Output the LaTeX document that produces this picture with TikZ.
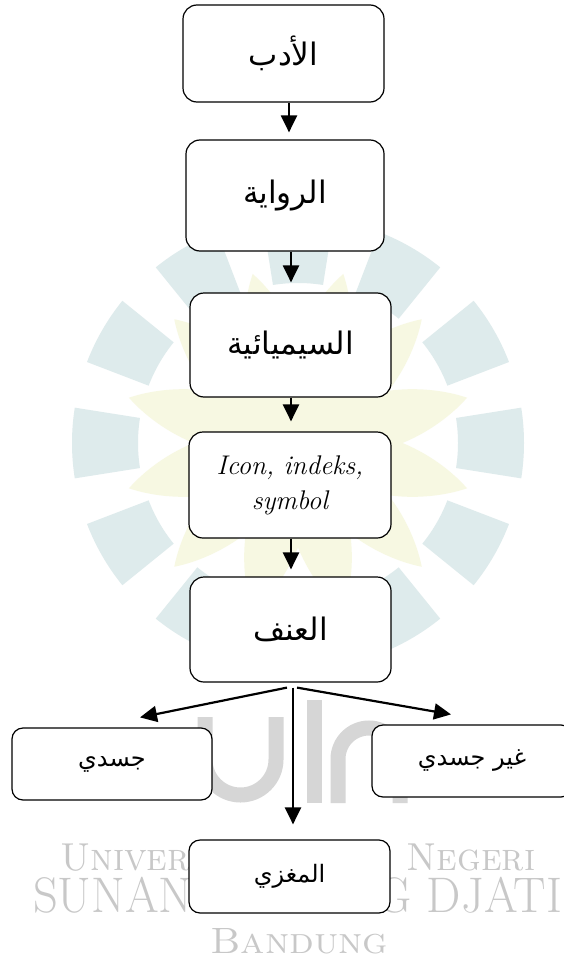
\documentclass[tikz,border=0pt]{standalone}
\usepackage{fontspec}
\usepackage{graphicx}
\newfontfamily\arabicfont[Script=Arabic]{DejaVu Sans}
\TeXXeTstate=1
\usetikzlibrary{arrows.meta,calc}
\definecolor{wmteal}{RGB}{222,235,236}
\definecolor{wmyellow}{RGB}{247,248,226}
\definecolor{wmgrey}{RGB}{214,214,214}
\definecolor{wmtextgrey}{RGB}{200,200,200}
\newcommand{\artxt}[1]{{\arabicfont\beginR #1\endR}}
\begin{document}
\begin{tikzpicture}[x=1pt,y=-1pt,
  box/.style={draw=black, line width=1.2pt, rounded corners=14pt, fill=white, inner sep=0pt, align=center},
  smallbox/.style={box, rounded corners=11pt, minimum width=200pt, minimum height=72pt, font=\fontsize{24}{28}\selectfont},
  bigbox/.style={box, minimum width=201pt, font=\fontsize{31}{36}\selectfont},
  arr/.style={-{Triangle[length=17pt,width=16pt]}, line width=2.2pt},
  wmtext/.style={text=wmtextgrey, anchor=base west, inner sep=0pt}]
\useasboundingbox (0,0) rectangle (564,963);
\fill[white] (0,0) rectangle (564,963);
% watermark logo
\foreach \a in {15,45,...,345} {
  \begin{scope}[shift={(298,443)}, rotate=\a]
    \fill[wmyellow] (0,0) .. controls (50,45) and (130,30) .. (175,0) .. controls (130,-30) and (50,-45) .. (0,0);
  \end{scope}
}
\foreach \a in {0,30,...,330} {
  \fill[wmteal] ($(298,443)+(\a-9:226)$) arc[start angle=\a-9, end angle=\a+9, radius=226]
    -- ($(298,443)+(\a+9:160)$) arc[start angle=\a+9, end angle=\a-9, radius=160] -- cycle;
}
\draw[wmgrey, line width=15pt] (205,717) -- (205,759.5) arc[start angle=180, end angle=0, radius=35.5] -- (276,717);
\draw[wmgrey, line width=15pt] (314,700) -- (314,803);
\draw[wmgrey, line width=15pt] (338,803) -- (338,759) arc[start angle=180, end angle=360, radius=31] -- (400,803);
\node[wmtext] (wm1) at (60,870) {\resizebox{475pt}{\height}{\fontsize{39}{40}\selectfont\textsc{Universitas Islam Negeri}}};
\node[wmtext] (wm2) at (33,912) {\resizebox{529pt}{\height}{\fontsize{50}{50}\selectfont SUNAN GUNUNG DJATI}};
\node[wmtext] (wm3) at (210,953) {\resizebox{178pt}{\height}{\fontsize{36.6}{37}\selectfont\textsc{Bandung}}};
% boxes
\node[bigbox, minimum width=201pt, minimum height=97pt] (b1) at (283.5,53.5) {\artxt{الأدب}};
\node[bigbox, minimum width=198pt, minimum height=111pt] (b2) at (285,195.5) {\artxt{الرواية}};
\node[bigbox, minimum height=104pt] (b3) at (290.5,345) {\artxt{السيميائية}};
\node[bigbox, minimum width=202pt, minimum height=106pt, font=\fontsize{27}{35}\selectfont\itshape] (b4) at (290,485) {Icon, indeks,\\ symbol};
\node[bigbox, minimum height=105pt] (b5) at (290.5,629.5) {\artxt{العنف}};
\node[smallbox] (bl) at (112,764) {\artxt{جسدي}};
\node[smallbox] (br) at (472,761) {\artxt{غير جسدي}};
\node[smallbox, minimum width=201pt, minimum height=73pt] (bm) at (289.5,876.5) {\artxt{المغزي}};
% arrows
\draw[arr, shorten >=7pt] ([xshift=5.5pt]b1.south) -- ([xshift=4pt]b2.north);
\draw[arr, shorten >=10pt] ([xshift=6pt]b2.south) -- ([xshift=0.5pt]b3.north);
\draw[arr, shorten >=10pt] ([xshift=0.5pt]b3.south) -- ([xshift=1pt]b4.north);
\draw[arr, shorten >=7pt] ([xshift=1pt]b4.south) -- ([xshift=0.5pt]b5.north);
\draw[arr] ([xshift=-3.5pt,yshift=-5pt]b5.south) -- ([xshift=28pt,yshift=10pt]bl.north);
\draw[arr] ([xshift=6.5pt,yshift=-5pt]b5.south) -- ([xshift=-21pt,yshift=10pt]br.north);
\draw[arr, shorten >=15pt] ([xshift=2.5pt,yshift=-5pt]b5.south) -- ([xshift=3.5pt]bm.north);
\end{tikzpicture}
\end{document}
